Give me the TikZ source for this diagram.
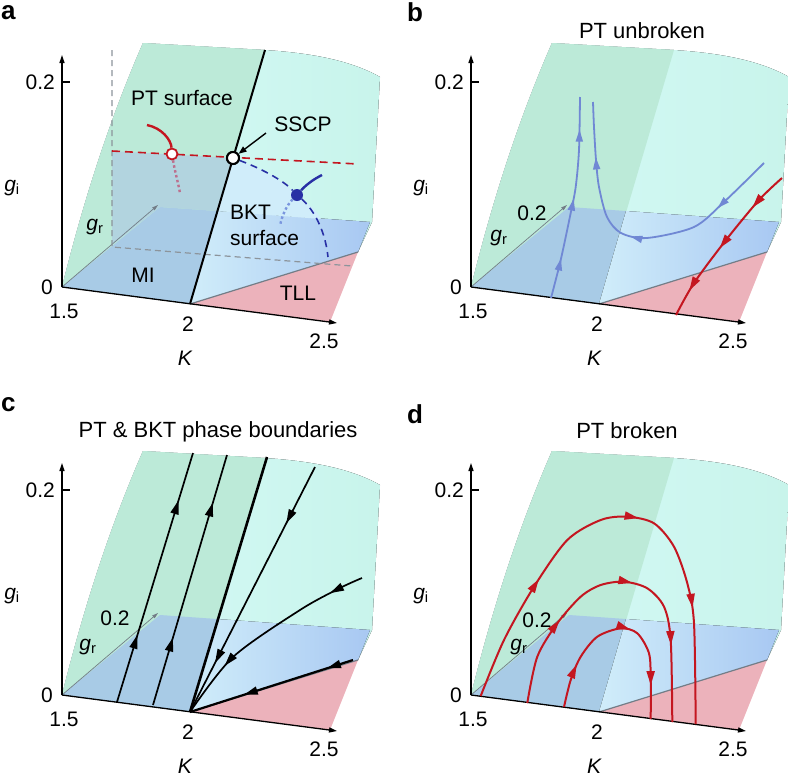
\documentclass[tikz,border=0pt]{standalone}
\usepackage{fontspec}
\setmainfont{Liberation Sans}
\usetikzlibrary{arrows.meta,decorations.markings}

\definecolor{mintgreen}{RGB}{188,234,216}
\definecolor{palecyan}{RGB}{216,251,249}
\definecolor{rightcyan}{RGB}{200,244,235}
\definecolor{planeblue}{RGB}{168,203,230}
\definecolor{bktlight}{RGB}{208,237,250}
\definecolor{bktblue}{RGB}{168,200,242}
\definecolor{tllpink}{RGB}{236,178,187}
\definecolor{edgegray}{RGB}{115,125,135}
\definecolor{dashgray}{RGB}{140,148,155}
\definecolor{ptred}{RGB}{196,22,32}
\definecolor{ptmauve}{RGB}{188,112,142}
\definecolor{bktnavy}{RGB}{40,48,165}
\definecolor{bktsky}{RGB}{122,150,222}
\definecolor{flowblue}{RGB}{112,136,212}
\definecolor{shadeblue}{RGB}{178,212,223}

\tikzset{
  lbl/.style={font=\fontsize{21}{26}\selectfont, inner sep=0pt},
  ttl/.style={font=\fontsize{22}{26}\selectfont, inner sep=0pt, anchor=base},
  panelletter/.style={font=\fontsize{26}{30}\selectfont\bfseries, inner sep=0pt, anchor=base west},
  axisline/.style={line width=1.3pt, -{Triangle[length=8pt,width=5pt]}},
  graxis/.style={edgegray, line width=0.7pt, -{Triangle[length=6pt,width=3.5pt]}},
  flowtip/.tip={Triangle[length=14pt,width=8pt]},
  smalltip/.tip={Triangle[length=12pt,width=7pt]},
  tipat/.style={postaction={decorate, decoration={markings, mark=at position #1 with {\arrow{flowtip}}}}},
  btipat/.style={postaction={decorate, decoration={markings, mark=at position #1 with {\arrow{smalltip}}}}},
  flowline/.style={line width=1.7pt},
  bflow/.style={flowblue, line width=1.8pt},
  ptflow/.style={ptred, line width=2pt},
  ringdot/.style={circle, draw, fill=white, inner sep=0pt, minimum size=12pt, line width=2pt},
}

% surfaces and axes shared by the four panels, #1 = extra fills below the axes
\newcommand{\phasebase}[1]{%
  \coordinate (O) at (62,287);
  \coordinate (K2) at (190,304);
  \coordinate (Kend) at (330,322);
  \coordinate (fold) at (265,50);
  \coordinate (grtip) at (160,207);
  \coordinate (bluefold) at (217,211);
  \coordinate (blueR) at (370,222);
  \coordinate (tllR) at (358,252);
  % PT surface
  \fill[left color=palecyan, right color=rightcyan] (O) .. controls (80,215) and (105,130) .. (143,43) -- (fold)
    .. controls (310,53) and (350,60) .. (380,77) -- (372,222) -- (tllR) -- (K2) -- cycle;
  \fill[mintgreen] (O) .. controls (80,215) and (105,130) .. (143,43) -- (fold) -- (K2) -- cycle;
  % g_i = 0 plane
  \fill[planeblue] (O) -- (grtip) -- (bluefold) -- (K2) -- cycle;
  \fill[left color=bktlight, right color=bktblue] (bluefold) -- (blueR) -- (tllR) -- (K2) -- cycle;
  \fill[tllpink] (K2) -- (tllR) -- (Kend) -- cycle;
  #1
  \draw[edgegray, line width=1.2pt] (K2) -- (tllR);
  % axes
  \coordinate (grend) at (158,205);
  \coordinate (gitip) at (62,55);
  \coordinate (Ktip) at (337,323);
  \draw[graxis] (O) -- (grend);
  \draw[axisline] (O) -- (gitip);
  \draw[axisline] (O) -- (Ktip);
  \draw[line width=1.3pt] (62,82) -- (70,82);
  \node[lbl, anchor=east] (gitick) at (55,82) {0.2};
  \node[lbl] (zero) at (47,287) {0};
  \node[lbl] (Kone) at (64,311) {1.5};
  \node[lbl] (Ktwo) at (188,324) {2};
  \node[lbl] (Kthree) at (324,341) {2.5};
  \node[lbl] (Klabel) at (185,358) {\itshape K};
  \node[lbl] (gilabel) at (12,188) {\itshape g\textsubscript{\upshape i}};
}

\begin{document}
\begin{tikzpicture}[x=1pt, y=-1pt]
  \useasboundingbox (0,0) rectangle (788,780);

  % panel letters and titles
  \node[panelletter] (la) at (1,19) {a};
  \node[panelletter] (lb) at (407,21) {b};
  \node[panelletter] (lc) at (1,411) {c};
  \node[panelletter] (ld) at (407,423) {d};
  \node[ttl] (tb) at (642,38) {PT unbroken};
  \node[ttl] (tc) at (218,437) {PT \& BKT phase boundaries};
  \node[ttl] (td) at (627,438) {PT broken};

  % (a) phase diagram
  \begin{scope}[name prefix=a-]
    \phasebase{%
      \fill[shadeblue] (112,151) -- (233,158) -- (bluefold) -- (grtip) -- (112,245) -- cycle;
      \fill[bktlight] (233,158) .. controls (260,168) and (283,180) .. (297,195)
        .. controls (310,205) and (318,212) .. (321,219) -- (bluefold) -- cycle;
    }
    \node[lbl] (grlabel) at (95,227) {\itshape g\textsubscript{\upshape r}};
    % projections and cuts
    \coordinate (vtop) at (112,50);
    \coordinate (vbot) at (112,247);
    \coordinate (hend) at (352,266);
    \draw[dashgray, line width=1.2pt, dash pattern=on 6pt off 4pt] (vtop) -- (vbot) -- (hend);
    \coordinate (rdstart) at (112,151);
    \coordinate (rdend) at (358,164);
    \draw[ptred, line width=1.6pt, dash pattern=on 8pt off 5pt] (rdstart) -- (rdend);
    \draw[line width=2pt] (K2) -- (fold);
    % fixed points
    \node[ringdot, draw=ptred, minimum size=11pt, line width=1.8pt] (ptdot) at (172,154) {};
    \node[circle, fill=bktnavy, inner sep=0pt, minimum size=12pt] (bktdot) at (297,195) {};
    \node[ringdot] (sscpdot) at (233,158) {};
    \coordinate (ptstart) at (147,125);
    \coordinate (ptdotend) at (180,193);
    \coordinate (bktend) at (322,175);
    \coordinate (bktdotend) at (280,226);
    \coordinate (bktdashend) at (328,257);
    \draw[ptred, line width=2.4pt] (ptstart) .. controls (162,128) and (171,140) .. (ptdot);
    \draw[ptmauve, line width=2.4pt, dash pattern=on 2.5pt off 2.5pt] (ptdot) .. controls (175,172) and (178,182) .. (ptdotend);
    \draw[bktnavy, line width=1.6pt, dash pattern=on 7pt off 5pt] (sscpdot) .. controls (260,168) and (283,180) .. (bktdot);
    \draw[bktnavy, line width=1.6pt, dash pattern=on 7pt off 5pt] (bktdot) .. controls (312,208) and (325,228) .. (bktdashend);
    \draw[bktnavy, line width=2.4pt] (bktdot) .. controls (305,186) and (312,180) .. (bktend);
    \draw[bktsky, line width=2.4pt, dash pattern=on 2.5pt off 2.5pt] (bktdot) .. controls (287,205) and (282,215) .. (bktdotend);
    \node[ringdot] at (sscpdot) {};
    % labels
    \node[lbl] (ptlabel) at (182,98) {PT surface};
    \node[lbl] (sscp) at (303,124) {SSCP};
    \coordinate (sscptail) at (266,133);
    \draw[line width=1.4pt, -{Triangle[length=8pt,width=6pt]}] (sscptail) -- (sscpdot);
    \node[lbl, align=left, anchor=west] (bktlabel) at (230,225) {BKT\\surface};
    \node[lbl] (milabel) at (143,275) {MI};
    \node[lbl] (tlllabel) at (298,293) {TLL};
  \end{scope}

  % (b) PT unbroken
  \begin{scope}[shift={(409,0)}, name prefix=b-]
    \phasebase{}
    \node[lbl] (grtick) at (123,213) {0.2};
    \node[lbl] (grlabel) at (90,238) {\itshape g\textsubscript{\upshape r}};
    \draw[bflow, btipat=0.2, btipat=0.5, btipat=0.84] plot[smooth] coordinates
      {(142,298) (151.7,260) (161.7,213) (166.7,187) (170,150) (171,97)};
    \draw[bflow, btipat=0.21, btipat=0.52, btipat=0.82] plot[smooth] coordinates
      {(355,163) (315,202) (285,227) (238,238) (212,233) (198,217) (190,187) (187,160) (185,127) (184,102)};
    \draw[ptflow, tipat=0.24, tipat=0.54, tipat=0.84] plot[smooth] coordinates
      {(373,178) (350,200) (317,240) (285,283) (267,315)};
  \end{scope}

  % (c) PT & BKT phase boundaries
  \begin{scope}[shift={(0,408)}, name prefix=c-]
    \phasebase{}
    \node[lbl] (grtick) at (115,210) {0.2};
    \node[lbl] (grlabel) at (88,239) {\itshape g\textsubscript{\upshape r}};
    \draw[flowline, tipat=0.27, tipat=0.81] (117,294) -- (193,45);
    \draw[flowline, tipat=0.27, tipat=0.81] (153,297) -- (227,47);
    \draw[line width=2.6pt] (K2) -- (267,49);
    \draw[flowline, tipat=0.23, tipat=0.8] (315,59) -- (K2);
    \draw[flowline, tipat=0.16, tipat=0.74] plot[smooth] coordinates
      {(362,170) (340,180) (300,202) (233,249) (190,304)};
    \draw[flowline, line width=2.2pt, tipat=0.16, tipat=0.67] (353,252) -- (K2);
  \end{scope}

  % (d) PT broken
  \begin{scope}[shift={(409,408)}, name prefix=d-]
    \phasebase{}
    \node[lbl] (grtick) at (128,212) {0.2};
    \node[lbl] (grlabel) at (110,239) {\itshape g\textsubscript{\upshape r}};
    \draw[ptflow, tipat=0.27, tipat=0.53, tipat=0.76] plot[smooth] coordinates
      {(71.7,288) (95,232) (125,178.7) (158.3,132) (191.7,112) (218.3,108.7) (245,115.3) (265,138.7) (278.3,175.3) (285,215.3) (286.7,316)};
    \draw[ptflow, tipat=0.27, tipat=0.53, tipat=0.77] plot[smooth] coordinates
      {(118.3,295) (128.3,248.7) (148.3,215.3) (171.7,188.7) (191.7,177) (215,173.7) (238.3,180.3) (255,198.7) (261.7,232) (263.3,314)};
    \draw[ptflow, tipat=0.21, tipat=0.54, tipat=0.84] plot[smooth] coordinates
      {(155,299) (161.7,272) (171.7,248.7) (188.3,228.7) (211.7,220.3) (228.3,225.3) (240,245.3) (241.7,272) (241.7,311)};
  \end{scope}
\end{tikzpicture}
\end{document}
